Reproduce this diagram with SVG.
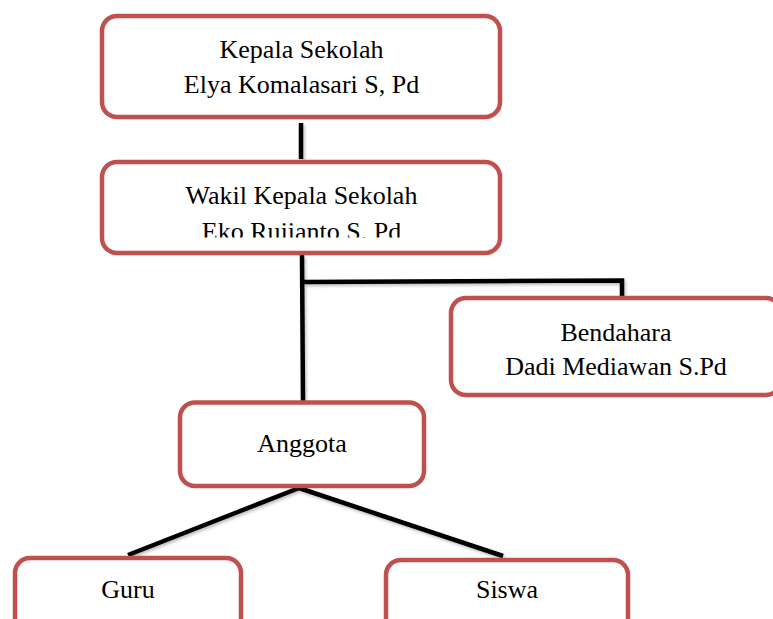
<svg xmlns="http://www.w3.org/2000/svg" width="773" height="619" viewBox="0 0 773 619">
  <style>
    .box { fill: #ffffff; stroke: #C0504D; stroke-width: 4.5; }
    .lbl { font-family: "Liberation Serif", "Times New Roman", serif; font-size: 26px; fill: #000000; text-anchor: middle; }
    .conn { stroke: #000000; stroke-width: 4.5; fill: none; stroke-linecap: butt; stroke-linejoin: miter; }
  </style>
  <defs>
    <filter id="shadow" x="-20%" y="-20%" width="140%" height="140%">
      <feDropShadow dx="1.5" dy="2" stdDeviation="1.5" flood-color="#000000" flood-opacity="0.25"/>
    </filter>
    <clipPath id="clipWakil">
      <rect x="100" y="160" width="402" height="77.5"/>
    </clipPath>
  </defs>
  <rect width="773" height="619" fill="#ffffff"/>

  <g id="connectors" filter="url(#shadow)">
    <line class="conn" x1="301" y1="123" x2="301" y2="159"/>
    <line class="conn" x1="302" y1="255" x2="303" y2="402"/>
    <polyline class="conn" points="302,282 622,280.5 622,297"/>
    <line class="conn" x1="299" y1="488" x2="128" y2="555"/>
    <line class="conn" x1="299" y1="488" x2="503" y2="556"/>
  </g>

  <g id="kepala">
    <rect class="box" x="102" y="16" width="398" height="101" rx="15" ry="15"/>
    <text class="lbl" x="301.5" y="58">Kepala Sekolah</text>
    <text class="lbl" x="301.5" y="92.5">Elya Komalasari S, Pd</text>
  </g>

  <g id="wakil">
    <rect class="box" x="102" y="162" width="398" height="91" rx="15" ry="15"/>
    <text class="lbl" x="301.5" y="204">Wakil Kepala Sekolah</text>
    <text class="lbl" x="301.5" y="240" clip-path="url(#clipWakil)">Eko Rujianto S. Pd</text>
  </g>

  <g id="bendahara">
    <rect class="box" x="451" y="298" width="330" height="97" rx="15" ry="15"/>
    <text class="lbl" x="616" y="341">Bendahara</text>
    <text class="lbl" x="616" y="375">Dadi Mediawan S.Pd</text>
  </g>

  <g id="anggota">
    <rect class="box" x="180" y="402.5" width="244" height="83.5" rx="15" ry="15"/>
    <text class="lbl" x="302" y="452">Anggota</text>
  </g>

  <g id="guru">
    <rect class="box" x="15" y="558" width="226" height="80" rx="15" ry="15"/>
    <text class="lbl" x="128" y="598">Guru</text>
  </g>

  <g id="siswa">
    <rect class="box" x="386" y="560" width="242" height="80" rx="15" ry="15"/>
    <text class="lbl" x="507" y="598">Siswa</text>
  </g>
</svg>
